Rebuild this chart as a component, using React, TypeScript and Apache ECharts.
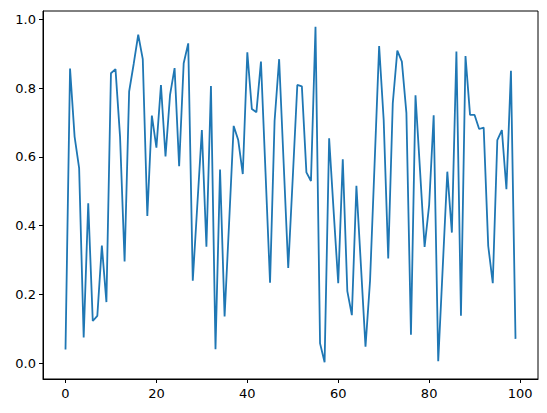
import { useRef, useEffect } from "react";
import * as echarts from "echarts";
import type { EChartsOption } from "echarts";

const values = [
  0.04, 0.857, 0.659, 0.567, 0.075, 0.465, 0.123, 0.138, 0.342, 0.178,
  0.843, 0.855, 0.659, 0.296, 0.79, 0.87, 0.955, 0.884, 0.428, 0.72,
  0.627, 0.809, 0.601, 0.78, 0.858, 0.573, 0.872, 0.93, 0.24, 0.46,
  0.678, 0.339, 0.806, 0.041, 0.563, 0.136, 0.41, 0.69, 0.649, 0.55,
  0.904, 0.739, 0.73, 0.877, 0.556, 0.234, 0.705, 0.884, 0.58, 0.277,
  0.54, 0.809, 0.805, 0.555, 0.53, 0.978, 0.058, 0.003, 0.654, 0.44,
  0.233, 0.593, 0.21, 0.14, 0.516, 0.283, 0.048, 0.24, 0.58, 0.922,
  0.707, 0.305, 0.756, 0.909, 0.877, 0.727, 0.083, 0.779, 0.56, 0.338,
  0.46, 0.721, 0.006, 0.281, 0.557, 0.38, 0.906, 0.138, 0.893, 0.722,
  0.722, 0.681, 0.685, 0.341, 0.233, 0.649, 0.678, 0.506, 0.85, 0.071,
];

const xTicks = [0, 20, 40, 60, 80, 100];
const yTicks = [0, 0.2, 0.4, 0.6, 0.8, 1.0];

const font = "DejaVu Sans";

export default function App() {
  const chartRef = useRef<HTMLDivElement>(null);

  useEffect(() => {
    if (!chartRef.current) return;
    const chart = echarts.init(chartRef.current, undefined, { renderer: "svg" });

    const option: EChartsOption = {
      animation: false,
      grid: {
        left: 43,
        top: 11,
        right: 9,
        bottom: 34,
        show: true,
        borderColor: "#000",
        borderWidth: 1,
        backgroundColor: "#fff",
      },
      xAxis: {
        type: "value",
        min: -4.95,
        max: 103.95,
        splitLine: { show: false },
        axisLine: { onZero: false, lineStyle: { color: "#000", width: 1 } },
        axisTick: { customValues: xTicks, length: 4, lineStyle: { color: "#000" } },
        axisLabel: {
          customValues: xTicks,
          color: "#000",
          fontFamily: font,
          fontSize: 13,
          margin: 8,
        },
      },
      yAxis: {
        type: "value",
        min: -0.0456,
        max: 1.024,
        splitLine: { show: false },
        axisLine: { show: true, onZero: false, lineStyle: { color: "#000", width: 1 } },
        axisTick: { show: true, customValues: yTicks, length: 4, lineStyle: { color: "#000" } },
        axisLabel: {
          customValues: yTicks,
          color: "#000",
          fontFamily: font,
          fontSize: 13,
          margin: 7,
          formatter: (v: number) => v.toFixed(1),
        },
      },
      series: [
        {
          type: "line",
          data: values.map((v, i) => [i, v]),
          showSymbol: false,
          lineStyle: { color: "#1f77b4", width: 1.8 },
          itemStyle: { color: "#1f77b4" },
        },
      ],
    };

    chart.setOption(option);
    return () => chart.dispose();
  }, []);

  return (
    <div
      ref={chartRef}
      style={{ position: "absolute", left: 0, top: 0, width: 547, height: 413, background: "#fff" }}
    />
  );
}
